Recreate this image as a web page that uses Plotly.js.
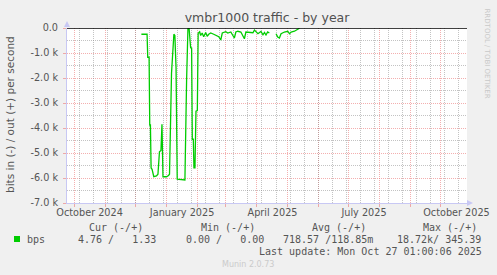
<!DOCTYPE html>
<html><head><meta charset="utf-8">
<script src="https://cdn.plot.ly/plotly-3.0.1.min.js"></script>
<style>html,body{margin:0;padding:0;background:#F0F0F0;}#chart{width:497px;height:275px;}</style>
</head><body><div id="chart"></div>
<script>
// ---- data (bits in, shown negative) ----
const dates = [
 '2024-12-07','2024-12-12 16:00','2024-12-13 08:00','2024-12-14 16:00','2024-12-15 08:00','2024-12-16','2024-12-16 16:00','2024-12-17 16:00','2024-12-19 08:00',
 '2024-12-22','2024-12-23 12:00','2024-12-25','2024-12-26 12:00','2024-12-27 12:00','2024-12-28 12:00',
 '2025-01-01','2025-01-03','2025-01-04','2025-01-06','2025-01-08 08:00','2025-01-09 08:00','2025-01-10 12:00','2025-01-11 16:00',
 '2025-01-18 08:00','2025-01-19 08:00','2025-01-21','2025-01-22 08:00','2025-01-23 12:00','2025-01-25','2025-01-26',
 '2025-01-26 16:00','2025-01-27 16:00','2025-01-28 08:00','2025-01-29 08:00','2025-01-30 08:00','2025-01-31 16:00',
 '2025-02-01 12:00','2025-02-03','2025-02-04','2025-02-05 12:00','2025-02-07','2025-02-09','2025-02-10 12:00','2025-02-12',
 '2025-02-14','2025-02-17','2025-02-20','2025-02-22','2025-02-24','2025-02-25 12:00',
 '2025-03-01','2025-03-03','2025-03-06','2025-03-08','2025-03-09 12:00','2025-03-11','2025-03-13','2025-03-16','2025-03-18',
 '2025-03-19 12:00','2025-03-21','2025-03-24','2025-03-28','2025-03-29 12:00','2025-03-31',
 '2025-04-02','2025-04-05','2025-04-07','2025-04-08 12:00','2025-04-10','2025-04-11 16:00','2025-04-13 08:00','2025-04-16',
 '2025-04-20','2025-04-21 16:00','2025-04-23 08:00','2025-04-25','2025-04-28 08:00','2025-05-01 16:00','2025-05-03 08:00',
 '2025-05-05','2025-05-08 08:00','2025-05-11 16:00','2025-05-13 08:00'
];
const bpsIn = [
 -250,-250,-1170,-1170,-3880,-3880,-5600,-5650,-5950,
 -5920,-5850,-4950,-4900,-3850,-5950,
 -5950,-5900,-5850,-1810,-250,-300,-1590,-6050,
 -6060,-6080,-2080,-20,-20,-790,-800,
 -4450,-4450,-5590,-5590,-3330,-3300,
 -210,-150,-300,-200,-350,-180,-330,-250,
 -200,-250,-300,-350,-480,-200,
 -150,-200,-160,-300,-400,-160,-130,-160,-300,
 -430,-160,-160,-190,-80,-160,
 -230,-140,-270,-180,-280,-160,-200,null,
 -230,-360,-400,-230,-160,-130,-230,
 -160,-130,-50,-10
];
const monthStarts = ['2024-10-01','2024-11-01','2024-12-01','2025-01-01','2025-02-01','2025-03-01','2025-04-01',
 '2025-05-01','2025-06-01','2025-07-01','2025-08-01','2025-09-01','2025-10-01'];
const labelDates = ['2024-10-16 12:00','2025-01-16 12:00','2025-04-16 12:00','2025-07-16 12:00','2025-10-16 12:00'];
const labelText = ['October 2024','January 2025','April 2025','July 2025','October 2025'];
const yTickVals = [0,-1000,-2000,-3000,-4000,-5000,-6000,-7000];
const yTickText = ['0.0','-1.0 k','-2.0 k','-3.0 k','-4.0 k','-5.0 k','-6.0 k','-7.0 k'];
const yMinorVals = [-500,-1500,-2500,-3500,-4500,-5500,-6500];
const legendName = 'bps';
const legendHeaders = ['Cur (-/+)','Min (-/+)','Avg (-/+)','Max (-/+)'];
const legendValues = ['4.76 /   1.33','0.00 /   0.00','718.57 /118.85m','18.72k/ 345.39'];
const lastUpdate = 'Last update: Mon Oct 27 01:00:06 2025';
const titleText = 'vmbr1000 traffic - by year';
const yTitle = 'bits in (-) / out (+) per second';

// ---- layout helpers (pixel -> paper) ----
const L = 67, T = 28, W = 400, H = 175;
const X = px => (px - L) / W;
const Y = py => (T + H - py) / H;
const nb = s => s.replace(/ /g, '\u00A0');

const RED = 'rgba(235,110,110,0.55)';
const GRAY = 'rgba(135,135,135,0.5)';
const AXIS = '#C8C8F4';
const TXT = '#555555';
const mono = {family: 'DejaVu Sans Mono', size: 10, color: TXT};
const XRANGE = ['2024-09-24','2025-10-27'];
const YRANGE = [-7000, 0];

const annotations = [];
legendHeaders.forEach((h, i) => {
  annotations.push({xref:'paper', yref:'paper', x:X([88,200,311,422][i]), y:Y(227.7), xanchor:'left', yanchor:'middle',
    text:nb(h), showarrow:false, font:mono, borderpad:0});
});
legendValues.forEach((v, i) => {
  annotations.push({xref:'paper', yref:'paper', x:X([77,185,282,396][i]), y:Y(239.3), xanchor:'left', yanchor:'middle',
    text:nb(v), showarrow:false, font:mono, borderpad:0});
});
annotations.push({xref:'paper', yref:'paper', x:X(26), y:Y(239.3), xanchor:'left', yanchor:'middle',
  text:legendName, showarrow:false, font:mono, borderpad:0});
annotations.push({xref:'paper', yref:'paper', x:X(483), y:Y(251), xanchor:'right', yanchor:'middle',
  text:nb(lastUpdate), showarrow:false, font:mono, borderpad:0});
annotations.push({xref:'paper', yref:'paper', x:X(247.5), y:Y(264), xanchor:'center', yanchor:'middle',
  text:'Munin 2.0.73', showarrow:false, font:{family:'DejaVu Sans', size:8, color:'#CBCBCB'}, borderpad:0});
annotations.push({xref:'paper', yref:'paper', x:X(487), y:Y(53.5), xanchor:'center', yanchor:'middle', textangle:90,
  text:'RRDTOOL / TOBI OETIKER', showarrow:false, font:{family:'DejaVu Sans', size:7, color:'#C8C8C8'}, borderpad:0});
annotations.push({xref:'paper', yref:'paper', x:X(10), y:Y(115), xanchor:'center', yanchor:'middle', textangle:-90,
  text:yTitle, showarrow:false, font:{family:'DejaVu Sans', size:10.5, color:TXT}, borderpad:0});

const shapes = [
  {type:'line', xref:'paper', yref:'y', x0:0, x1:1, y0:0, y1:0, line:{color:'#000000', width:1.3}, layer:'above'},
  {type:'rect', xref:'paper', yref:'paper', x0:X(14), x1:X(20), y0:Y(242), y1:Y(236), fillcolor:'#00CC00', line:{width:0}},
  {type:'path', xref:'paper', yref:'paper', path:`M ${X(64)} ${Y(27)} L ${X(70)} ${Y(27)} L ${X(67)} ${Y(21)} Z`, fillcolor:AXIS, line:{width:0}},
  {type:'path', xref:'paper', yref:'paper', path:`M ${X(467)} ${Y(200)} L ${X(467)} ${Y(206)} L ${X(473)} ${Y(203)} Z`, fillcolor:AXIS, line:{width:0}}
];

const data = [
  {type:'scatter', mode:'lines', x:[null], y:[null], xaxis:'x3', yaxis:'y2', showlegend:false, hoverinfo:'skip'},
  {type:'scatter', mode:'lines', x:[null], y:[null], xaxis:'x2', yaxis:'y', showlegend:false, hoverinfo:'skip'},
  {type:'scatter', mode:'lines', x:dates, y:bpsIn, line:{color:'#00CC00', width:1.3}, connectgaps:false, hoverinfo:'skip', showlegend:false}
];

const layout = {
  width:497, height:275,
  margin:{l:L, r:497-L-W, t:T, b:275-T-H, pad:0},
  paper_bgcolor:'#F0F0F0', plot_bgcolor:'#FFFFFF',
  showlegend:false,
  title:{text:titleText, x:0.5, xref:'paper', xanchor:'center', y:1-18/275, yref:'container', yanchor:'middle',
    font:{family:'DejaVu Sans', size:12.5, color:'#505050'}},
  xaxis:{type:'date', range:XRANGE, tickmode:'array', tickvals:monthStarts, showticklabels:false,
    showgrid:true, gridcolor:RED, griddash:'1px,1px', gridwidth:1,
    ticks:'outside', ticklen:3, tickcolor:RED, tickwidth:1,
    showline:true, linecolor:AXIS, linewidth:1, zeroline:false},
  xaxis2:{type:'date', overlaying:'x', anchor:'y', side:'bottom', range:XRANGE,
    tickmode:'array', tickvals:labelDates, ticktext:labelText, showgrid:false, ticks:'', zeroline:false, showline:false,
    tickfont:{family:'DejaVu Sans', size:9.7, color:TXT}, ticklabelstandoff:2},
  xaxis3:{type:'date', overlaying:'x', anchor:'y2', side:'bottom', range:XRANGE,
    tickmode:'linear', tick0:'2024-10-06', dtick:14*86400000, showticklabels:false, ticks:'',
    showgrid:true, gridcolor:GRAY, griddash:'1px,1px', gridwidth:1, zeroline:false, showline:false},
  yaxis:{range:YRANGE, tickmode:'array', tickvals:yTickVals, ticktext:yTickText,
    tickfont:{family:'DejaVu Sans', size:9.7, color:TXT},
    showgrid:true, gridcolor:RED, griddash:'1px,1px', gridwidth:1,
    ticks:'outside', ticklen:3, tickcolor:RED, ticklabelstandoff:3,
    showline:true, linecolor:AXIS, linewidth:1, zeroline:false},
  yaxis2:{range:YRANGE, overlaying:'y', anchor:'x', side:'left', tickmode:'array', tickvals:yMinorVals,
    showticklabels:false, ticks:'', showgrid:true, gridcolor:GRAY, griddash:'1px,1px', gridwidth:1,
    zeroline:false, showline:false},
  annotations, shapes
};

Plotly.newPlot('chart', data, layout, {displayModeBar:false, staticPlot:true});
</script></body></html>
